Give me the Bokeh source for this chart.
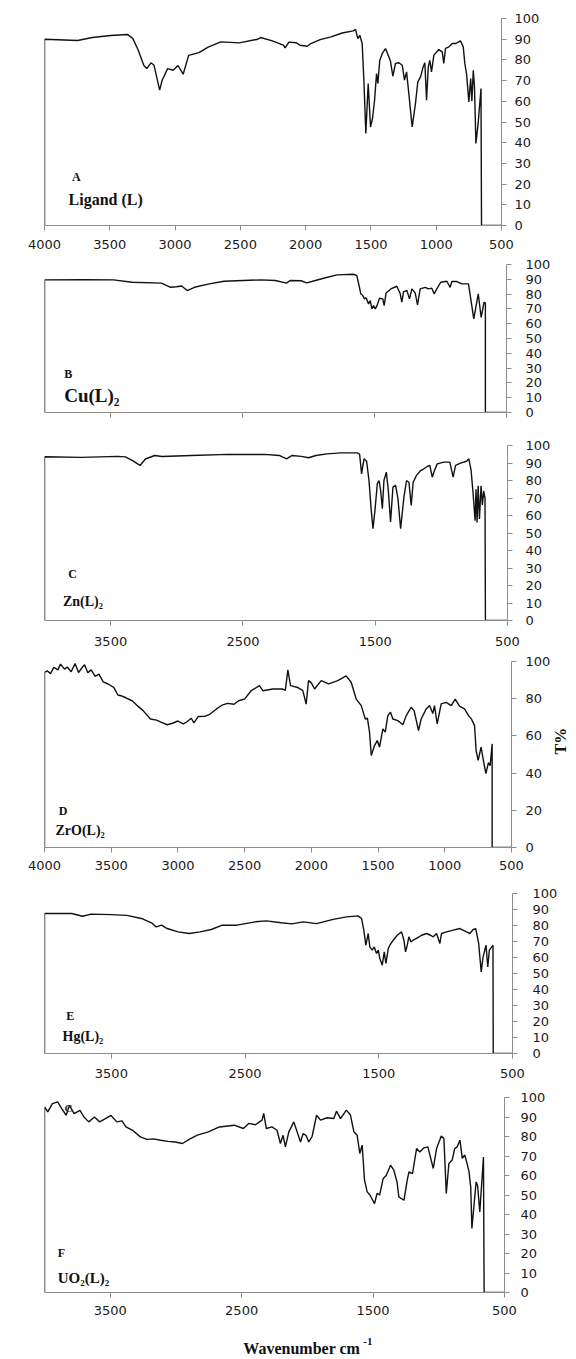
import math
from bokeh.plotting import figure
from bokeh.layouts import column
from bokeh.models import Range1d, FixedTicker, Label, CustomLabelingPolicy, LinearAxis
from bokeh.core.properties import value
from bokeh.embed import file_html
from bokeh.resources import INLINE

# ---------------- data (wavenumber cm-1, transmittance %) ----------------
wn_a = [4000, 4000, 3746, 3634, 3493, 3366, 3324, 3282, 3240, 3217,
        3184, 3161, 3118, 3099, 3057, 3014, 2978, 2938, 2896, 2817,
        2747, 2649, 2508, 2367, 2345, 2255, 2170, 2157, 2128, 2072,
        2044, 1987, 1960, 1889, 1805, 1720, 1636, 1618, 1600, 1585,
        1567, 1554, 1539, 1521, 1503, 1488, 1472, 1457, 1447, 1432,
        1413, 1388, 1363, 1350, 1332, 1312, 1286, 1260, 1243, 1227,
        1210, 1184, 1159, 1141, 1120, 1100, 1087, 1074, 1061, 1049,
        1036, 1018, 980, 954, 942, 929, 903, 878, 852, 814,
        793, 781, 768, 750, 736, 727, 716, 707, 696, 679,
        657, 653, 500]
t_a = [0, 90, 89.4, 90.8, 91.8, 92.3, 90.4, 84.7, 77.4, 75.8,
       78.6, 77.4, 65.4, 70.2, 75.8, 75.0, 77.3, 73.1, 82.2, 83.5,
       86.2, 88.7, 88.2, 90.0, 90.8, 89.2, 87.1, 85.8, 88.6, 88.3,
       87.1, 86.6, 87.9, 89.8, 91.1, 93.0, 94.0, 94.7, 90.3, 91.9,
       87.9, 70.2, 44.4, 68.6, 47.6, 51.7, 60.5, 73.4, 68.6, 79.8,
       83.1, 85.5, 81.5, 79.2, 72.1, 78.3, 78.6, 77.4, 70.2, 74.2,
       63.8, 47.6, 58.9, 69.4, 71.8, 76.6, 78.6, 60.5, 76.6, 79.8,
       74.2, 82.3, 85.0, 83.9, 78.3, 85.6, 86.3, 87.9, 87.9, 89.2,
       86.3, 78.3, 73.4, 59.7, 71.0, 60.0, 75.0, 67.0, 39.6, 49.3,
       66.2, 0, 0]

wn_b = [4000, 4000, 3700, 3477, 3336, 3114, 3045, 3002, 2961, 2919,
        2864, 2752, 2641, 2362, 2251, 2167, 2139, 2056, 2014, 1975,
        1886, 1785, 1659, 1634, 1614, 1604, 1589, 1576, 1564, 1545,
        1532, 1520, 1507, 1494, 1481, 1462, 1437, 1427, 1412, 1376,
        1331, 1305, 1293, 1280, 1255, 1235, 1217, 1192, 1174, 1154,
        1116, 1091, 1066, 1048, 1028, 998, 952, 927, 914, 876,
        838, 788, 763, 748, 714, 692, 670, 660, 660, 500]
t_b = [0, 89.6, 89.8, 89.6, 88.0, 87.4, 84.6, 85.0, 85.5, 82.4,
       84.6, 86.9, 88.7, 89.6, 89.2, 87.4, 89.2, 89.0, 87.6, 88.5,
       90.7, 93.0, 93.4, 92.5, 84.6, 80.2, 79.0, 76.8, 77.5, 73.4,
       75.6, 70.0, 72.2, 70.0, 72.2, 77.2, 76.8, 72.2, 80.8, 83.5,
       85.3, 80.2, 74.5, 81.5, 82.5, 76.8, 83.5, 80.8, 72.7, 83.5,
       84.6, 83.5, 84.0, 80.2, 83.5, 88.0, 88.7, 84.6, 88.5, 88.5,
       86.9, 86.9, 72.2, 63.2, 80.2, 64.3, 74.5, 74.0, 0, 0]

wn_c = [4000, 4000, 3722, 3445, 3389, 3334, 3278, 3237, 3167, 3112,
        2890, 2613, 2336, 2225, 2170, 2128, 2059, 2004, 1948, 1865,
        1761, 1635, 1618, 1603, 1585, 1565, 1547, 1530, 1517, 1502,
        1484, 1471, 1459, 1446, 1434, 1416, 1401, 1384, 1366, 1346,
        1328, 1308, 1283, 1263, 1245, 1228, 1213, 1188, 1157, 1132,
        1107, 1087, 1069, 1052, 1031, 981, 936, 911, 893, 855,
        810, 792, 775, 760, 745, 738, 730, 722, 712, 700,
        690, 680, 670, 667, 500]
t_c = [0, 93.6, 93.2, 93.8, 93.5, 91.4, 88.6, 92.3, 94.3, 93.7,
       94.3, 94.9, 94.9, 94.3, 92.4, 94.3, 93.8, 93.0, 94.3, 95.2,
       95.8, 95.8, 95.0, 83.8, 92.4, 91.0, 80.0, 62.9, 52.5, 62.9,
       78.2, 80.0, 74.3, 63.9, 80.0, 84.8, 74.3, 56.3, 76.2, 77.2,
       69.6, 52.5, 70.5, 80.0, 79.0, 65.8, 79.0, 82.9, 85.7, 86.7,
       88.0, 88.6, 81.9, 85.7, 89.5, 90.5, 90.5, 81.9, 88.6, 89.9,
       91.0, 92.4, 85.7, 72.4, 57.0, 75.0, 56.0, 77.0, 58.0, 77.0,
       66.0, 74.0, 70.0, 0, 0]

wn_d = [4000, 4000, 3980, 3955, 3930, 3900, 3880, 3850, 3830, 3800,
        3771, 3745, 3720, 3700, 3675, 3650, 3620, 3592, 3560, 3523,
        3481, 3450, 3427, 3390, 3343, 3300, 3261, 3206, 3160, 3123,
        3080, 3041, 3000, 2960, 2930, 2900, 2880, 2848, 2800, 2766,
        2711, 2670, 2628, 2580, 2545, 2501, 2451, 2389, 2364, 2289,
        2214, 2195, 2176, 2156, 2101, 2064, 2039, 2021, 2000, 1976,
        1926, 1870, 1802, 1739, 1701, 1664, 1626, 1596, 1580, 1564,
        1551, 1527, 1506, 1489, 1464, 1446, 1427, 1407, 1389, 1352,
        1314, 1289, 1252, 1230, 1197, 1177, 1139, 1114, 1090, 1077,
        1057, 1027, 989, 952, 922, 890, 852, 822, 800, 777,
        765, 750, 728, 706, 692, 673, 660, 645, 645, 500]
t_d = [0, 94.1, 95.0, 93.5, 96.8, 95.5, 98.6, 95.9, 97.0, 94.5,
       98.9, 94.1, 96.5, 98.3, 94.0, 95.5, 92.0, 93.2, 89.0, 87.9,
       86.1, 82.0, 81.6, 80.5, 78.9, 76.0, 73.6, 69.1, 68.5, 67.3,
       66.0, 66.8, 68.0, 66.5, 67.7, 69.5, 67.0, 70.4, 70.5, 71.4,
       74.5, 76.5, 77.5, 77.0, 78.9, 79.8, 84.3, 87.0, 84.3, 85.2,
       85.2, 84.5, 95.5, 87.0, 86.0, 84.3, 77.1, 89.7, 88.5, 85.2,
       89.7, 88.0, 89.7, 92.3, 88.7, 79.8, 76.3, 69.1, 69.5, 62.0,
       49.5, 54.8, 57.5, 54.0, 63.8, 62.0, 70.9, 72.7, 69.1, 68.2,
       66.0, 70.9, 75.4, 73.6, 62.9, 69.1, 74.5, 76.3, 72.0, 76.3,
       66.4, 77.2, 78.0, 76.3, 79.8, 76.0, 74.5, 70.9, 69.0, 65.5,
       52.0, 46.8, 53.9, 45.0, 39.7, 45.6, 44.0, 55.7, 0, 0]

wn_e = [4000, 4000, 3797, 3715, 3650, 3500, 3385, 3275, 3193, 3165,
        3124, 3083, 3001, 2918, 2836, 2753, 2671, 2561, 2423, 2341,
        2231, 2149, 2066, 1966, 1841, 1741, 1654, 1629, 1612, 1597,
        1579, 1567, 1549, 1534, 1517, 1504, 1492, 1474, 1459, 1447,
        1429, 1417, 1392, 1362, 1330, 1312, 1300, 1287, 1275, 1260,
        1242, 1218, 1180, 1143, 1113, 1093, 1068, 1043, 1031, 993,
        943, 894, 844, 819, 794, 775, 753, 734, 720, 698,
        685, 673, 646, 644, 500]
t_e = [0, 87.5, 87.5, 85.8, 87.1, 86.8, 86.3, 84.4, 81.3, 79.1,
       80.2, 78.1, 76.0, 75.0, 76.0, 77.5, 80.2, 80.2, 82.3, 82.9,
       81.7, 81.0, 82.3, 81.2, 83.8, 85.4, 86.0, 84.4, 77.1, 67.7,
       75.0, 66.6, 64.6, 66.6, 62.5, 64.6, 59.4, 55.2, 63.5, 56.3,
       65.6, 67.7, 70.8, 73.9, 76.0, 70.8, 63.5, 67.7, 72.9, 69.8,
       70.8, 71.9, 73.9, 75.0, 73.9, 72.9, 75.0, 68.8, 75.0, 76.0,
       77.1, 78.1, 76.0, 75.0, 77.5, 78.0, 68.8, 51.0, 60.4, 67.7,
       54.1, 64.6, 67.7, 0, 0]

wn_f = [4000, 4000, 3975, 3940, 3900, 3870, 3835, 3810, 3775, 3730,
        3700, 3663, 3620, 3580, 3540, 3494, 3450, 3410, 3380, 3330,
        3271, 3220, 3170, 3116, 3060, 3005, 2950, 2900, 2837, 2753,
        2669, 2557, 2487, 2446, 2395, 2345, 2332, 2312, 2269, 2231,
        2205, 2185, 2167, 2141, 2103, 2078, 2052, 2032, 2010, 1989,
        1964, 1930, 1900, 1850, 1799, 1778, 1748, 1703, 1672, 1646,
        1621, 1601, 1583, 1565, 1545, 1524, 1489, 1469, 1450, 1423,
        1400, 1367, 1342, 1317, 1304, 1265, 1240, 1227, 1200, 1169,
        1144, 1113, 1083, 1042, 1017, 981, 961, 943, 923, 898,
        879, 860, 839, 821, 803, 788, 770, 757, 748, 716,
        705, 688, 660, 655, 500]
t_f = [0, 95.2, 92.6, 96.9, 97.8, 94.4, 90.9, 96.0, 91.7, 93.4,
       90.0, 87.5, 90.0, 87.5, 89.0, 90.8, 87.5, 88.0, 84.9, 83.2,
       79.8, 78.5, 78.8, 78.1, 77.5, 77.2, 76.4, 78.5, 80.7, 82.4,
       84.9, 85.8, 84.1, 86.7, 86.0, 88.4, 91.8, 84.1, 84.9, 83.2,
       76.4, 80.6, 74.7, 82.4, 87.5, 82.4, 77.2, 81.5, 80.5, 77.2,
       80.0, 90.9, 88.4, 89.6, 89.2, 93.0, 89.2, 93.5, 91.0, 82.4,
       80.6, 71.3, 75.6, 57.6, 51.6, 50.0, 45.6, 50.9, 50.0, 58.5,
       60.0, 65.3, 62.7, 56.4, 49.0, 47.3, 57.6, 61.8, 61.0, 73.8,
       72.1, 74.2, 74.7, 63.6, 73.8, 80.3, 79.0, 50.8, 66.2, 67.9,
       73.8, 74.7, 78.1, 68.8, 70.5, 67.0, 62.0, 54.0, 32.8, 56.7,
       55.0, 41.3, 69.5, 0, 0]

ticks_a = [4000, 3500, 3000, 2500, 2000, 1500, 1000, 500]
ticks_b = [3500, 2500, 1500, 500]
y_ticks10 = [0, 10, 20, 30, 40, 50, 60, 70, 80, 90, 100]
y_ticks20 = [0, 20, 40, 60, 80, 100]

SERIF = "Liberation Serif"
SANS = "DejaVu Sans"
AX = "#8c8c8c"
W = 576


def panel(wn, t, L, fw, T, fh, B, yticks, xticks, show_xlab, ystand, xstand):
    p = figure(title=None, frame_width=fw, frame_height=fh,
               min_border_left=L, min_border_right=W - L - fw,
               min_border_top=T, min_border_bottom=B,
               x_range=Range1d(4000, 500), y_range=Range1d(0, 100),
               y_axis_location="right", toolbar_location=None,
               output_backend="svg", outline_line_color=None,
               background_fill_color="white", border_fill_color="white")
    p.grid.visible = False
    p.line(wn, t, line_color="#111111", line_width=1.4)
    for ax, ticks, stand in ((p.xaxis[0], xticks, xstand), (p.yaxis[0], yticks, ystand)):
        ax.ticker = FixedTicker(ticks=ticks)
        ax.axis_line_color = AX
        ax.major_tick_line_color = AX
        ax.major_tick_out = 5
        ax.major_tick_in = 0
        ax.minor_tick_line_color = None
        ax.major_label_text_font = SANS
        ax.major_label_text_font_size = "13px"
        ax.major_label_text_color = "#1a1a1a"
        ax.major_label_standoff = stand
    if not show_xlab:
        # ticks only, no labels (as in the reference panel B)
        p.xaxis[0].major_label_policy = CustomLabelingPolicy(code="if (false) { yield 0 }")
        p.xaxis[0].major_label_standoff = 0
    return p


def lab(p, x, y, text, size, color="#111111"):
    p.add_layout(Label(x=x, y=y, text=text, text_font=SERIF, text_font_style="bold",
                       text_font_size=size, text_color=color,
                       text_baseline="alphabetic", text_align="left"))


pa = panel(wn_a, t_a, 44, 457, 18, 207, 31, y_ticks10, ticks_a, True, 8, 9)
lab(pa, 3789, 23.5, "A", "12px")
lab(pa, 3816, 12.7, "Ligand (L)", "16px")

pb = panel(wn_b, t_b, 41, 462, 8, 148, 20, y_ticks10, ticks_b, False, 14, 0)
lab(pb, 3851, 26.0, "B", "12px")
lab(pb, 3851, 11.3, "Cu(L)\u2082", "19px")

pc = panel(wn_c, t_c, 37, 463, 13, 175, 35, y_ticks10, ticks_b, True, 13, 11)
lab(pc, 3820, 26.4, "C", "12px")
lab(pc, 3861, 10.6, "Zn(L)\u2082", "14px")

pd = panel(wn_d, t_d, 30, 467, 6, 186, 33, y_ticks20, ticks_a, True, 9, 8)
lab(pd, 3894, 19.5, "D", "12px")
lab(pd, 3918, 9.3, "ZrO(L)\u2082", "14px")
# second, bare right axis that only carries the "T%" title, centred near 74 %
t_axis = LinearAxis(ticker=FixedTicker(ticks=[]), bounds=(64, 84.2),
                    axis_line_color=None, major_tick_line_color=None,
                    minor_tick_line_color=None, major_tick_out=0, minor_tick_out=0,
                    major_label_standoff=0, axis_label="T%",
                    axis_label_text_font=SERIF, axis_label_text_font_style="bold",
                    axis_label_text_font_size="16px", axis_label_text_color="#111111",
                    axis_label_standoff=7, axis_label_orientation=math.pi / 2)
pd.add_layout(t_axis, "right")

pe = panel(wn_e, t_e, 28, 468, 13, 160, 35, y_ticks10, ticks_b, True, 15, 10)
lab(pe, 3838, 23.3, "E", "12px")
lab(pe, 3865, 10.4, "Hg(L)\u2082", "14px")

pf = panel(wn_f, t_f, 31, 460, 9, 195, 31, y_ticks10, ticks_b, True, 11, 8)
lab(pf, 3900, 20.3, "F", "12px")
lab(pf, 3900, 7.2, "UO\u2082(L)\u2082", "15px")
lab(pf, 3848, 94.5, "C", "11px", color="#333333")

# axis title strip under the last panel
pg = figure(title=None, frame_width=460, frame_height=36,
            min_border_left=31, min_border_right=W - 31 - 460,
            min_border_top=0, min_border_bottom=0,
            x_range=Range1d(4000, 500), y_range=Range1d(0, 36),
            toolbar_location=None, output_backend="svg", outline_line_color=None,
            background_fill_color="white", border_fill_color="white")
pg.axis.visible = False
pg.grid.visible = False
pg.text(x=[2487], y=[11], text=["Wavenumber  cm"], text_font=value(SERIF),
        text_font_style="bold", text_font_size="16px", text_color="#111111",
        text_baseline="alphabetic", text_align="left")
pg.text(x=[1575], y=[18], text=["-1"], text_font=value(SERIF),
        text_font_style="bold", text_font_size="11px", text_color="#111111",
        text_baseline="alphabetic", text_align="left")

layout = column(pa, pb, pc, pd, pe, pf, pg, spacing=0)

with open("out.html", "w") as fh:
    fh.write(file_html(layout, INLINE))
